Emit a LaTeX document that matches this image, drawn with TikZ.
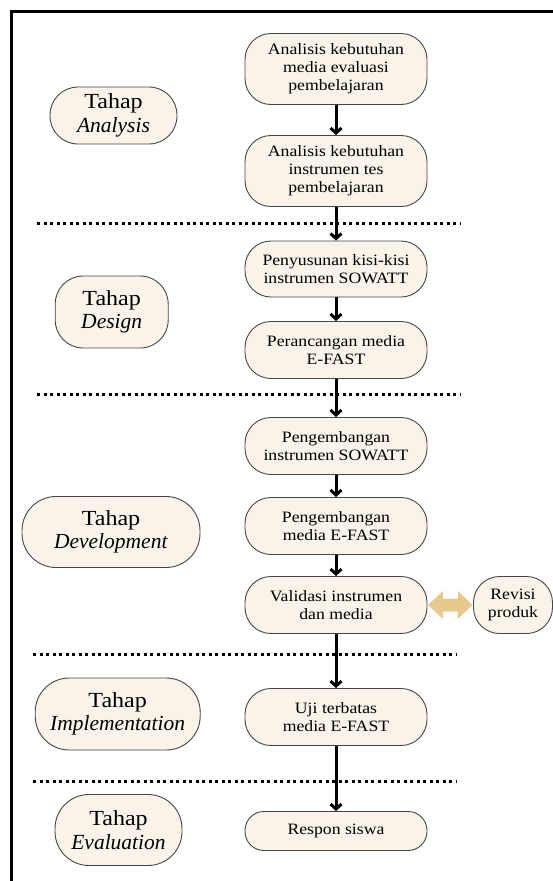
\documentclass[tikz,border=0pt]{standalone}
\usepackage{fontspec}
\setmainfont{Liberation Serif}[UprightFeatures={FakeStretch=1.12}]
\usetikzlibrary{arrows.meta,calc}
\definecolor{cream}{RGB}{249,243,233}
\definecolor{bordergray}{RGB}{70,70,70}
\definecolor{tan}{RGB}{232,200,140}
\tikzset{
  procbox/.style={draw=bordergray, line width=0.9pt, fill=cream, rounded corners=26pt,
    align=center, inner sep=0pt, minimum width=182pt,
    font=\fontsize{15.8}{18}\selectfont},
  phasebox/.style={draw=bordergray, line width=0.9pt, fill=cream, rounded corners=28pt,
    align=center, inner sep=0pt,
    font=\fontsize{21.5}{23.5}\selectfont},
  flowarrow/.style={line width=3pt, -{Straight Barb[length=5pt,width=11pt]}},
  phaseline/.style={line width=3pt, dash pattern=on 3pt off 3.5pt},
}
\begin{document}
\begin{tikzpicture}[x=1pt,y=-1pt]
\useasboundingbox (0,0) rectangle (553,881);
% frame
\coordinate (ftr) at (553,11.3);
\coordinate (ftl) at (11.3,11.3);
\coordinate (fbl) at (11.3,881);
\draw[line width=2.8pt] (ftr) -- (ftl) -- (fbl);

% main column
\node[procbox, minimum height=71pt] (a1) at (336,69) {Analisis kebutuhan\\media evaluasi\\pembelajaran};
\node[procbox, minimum height=71pt] (a2) at (336,171) {Analisis kebutuhan\\instrumen tes\\pembelajaran};
\node[procbox, minimum height=56pt] (d1) at (336,269) {Penyusunan kisi-kisi\\instrumen SOWATT};
\node[procbox, minimum height=57pt] (d2) at (336,350) {Perancangan media\\E-FAST};
\node[procbox, minimum height=57pt] (v1) at (336,446) {Pengembangan\\instrumen SOWATT};
\node[procbox, minimum height=57pt] (v2) at (336,526) {Pengembangan\\media E-FAST};
\node[procbox, minimum height=57pt] (v3) at (336,605) {Validasi instrumen\\dan media};
\node[procbox, minimum height=57pt] (i1) at (336,717) {Uji terbatas\\media E-FAST};
\node[procbox, minimum height=39pt, rounded corners=19pt] (e1) at (336,831) {Respon siswa};
\node[procbox, minimum height=57pt, minimum width=79pt] (rev) at (513,605) {Revisi\\produk};

% phase labels
\node[phasebox, minimum width=127pt, minimum height=57pt] (pa) at (113.5,115.5) {Tahap\\\textit{Analysis}};
\node[phasebox, minimum width=113pt, minimum height=72pt] (pd) at (111.7,312) {Tahap\\\textit{Design}};
\node[phasebox, minimum width=178pt, minimum height=71pt, rounded corners=34pt] (pv) at (111,532) {Tahap\\\textit{Development}};
\node[phasebox, minimum width=165pt, minimum height=72pt, rounded corners=34pt] (pi) at (117.7,714) {Tahap\\\textit{Implementation}};
\node[phasebox, minimum width=127pt, minimum height=71pt, rounded corners=34pt] (pe) at (118.5,830) {Tahap\\\textit{Evaluation}};

% dotted separators
\coordinate (s1l) at (37,223);   \coordinate (s1r) at (460,223);
\coordinate (s2l) at (37,394);   \coordinate (s2r) at (460,394);
\coordinate (s3l) at (33,654);   \coordinate (s3r) at (457,654);
\coordinate (s4l) at (33,781);   \coordinate (s4r) at (457,781);
\draw[phaseline] (s1l) -- (s1r);
\draw[phaseline] (s2l) -- (s2r);
\draw[phaseline] (s3l) -- (s3r);
\draw[phaseline] (s4l) -- (s4r);

% arrows
\draw[flowarrow] (a1) -- (a2);
\draw[flowarrow] (a2) -- (d1);
\draw[flowarrow] (d1) -- (d2);
\draw[flowarrow] (d2) -- (v1);
\draw[flowarrow] (v1) -- (v2);
\draw[flowarrow] (v2) -- (v3);
\draw[flowarrow] (v3) -- (i1);
\draw[flowarrow] (i1) -- (e1);

% double arrow between validation and revision
\fill[tan] ($(v3.east)+(0.5,0)$) -- ++(15,-14) -- ++(0,7.5) -- ($(rev.west)+(-15,-6.5)$) -- ++(0,-7.5)
  -- ($(rev.west)+(-0.5,0)$) -- ++(-15,14) -- ++(0,-7.5) -- ($(v3.east)+(15.5,6.5)$) -- ++(0,7.5) -- cycle;
\end{tikzpicture}
\end{document}
